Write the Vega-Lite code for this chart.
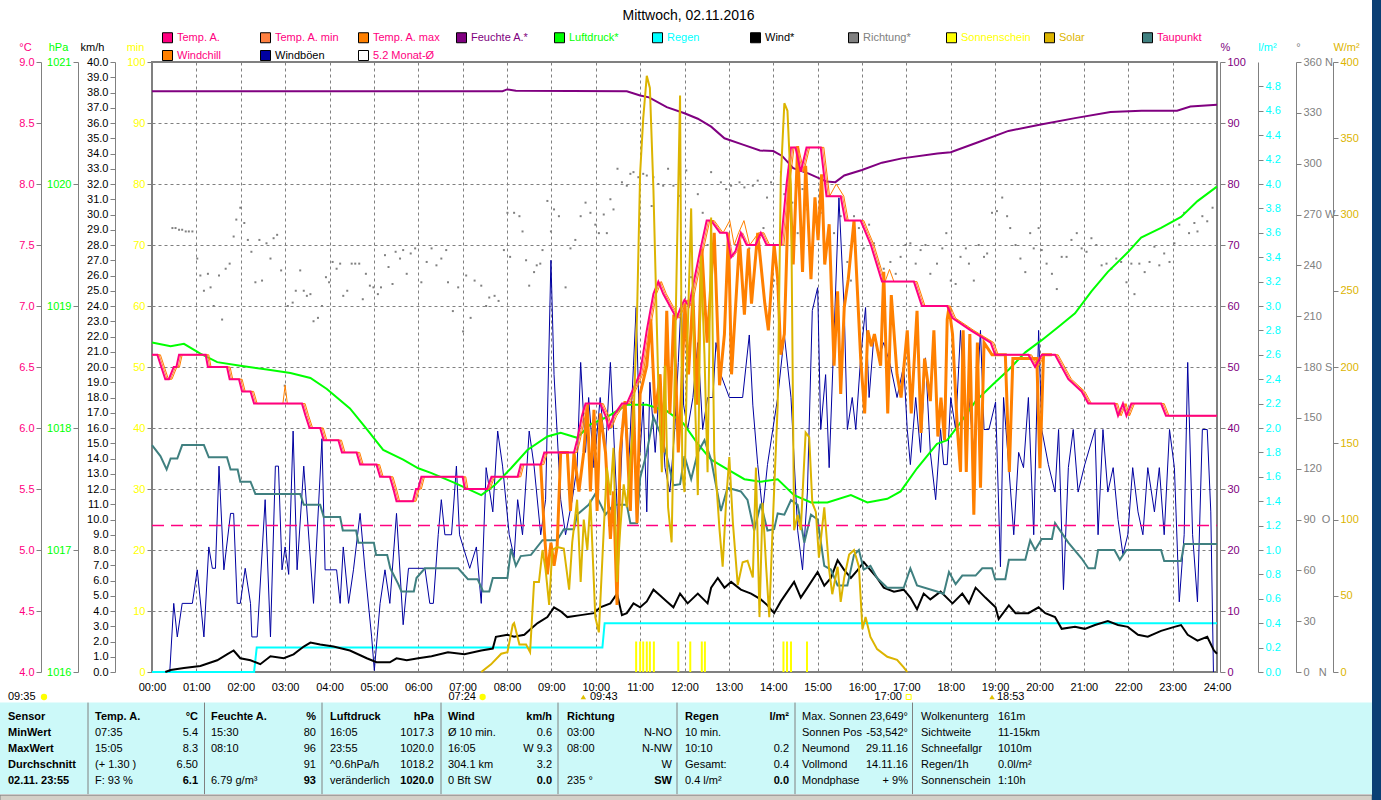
{
"$schema": "https://vega.github.io/schema/vega-lite/v6.json",
"width": 1065, "height": 610,
"autosize": {"type": "none"},
"padding": {"left": 152, "top": 62, "right": 164, "bottom": 128},
"background": "white",
"title": {"text": "Mittwoch, 02.11.2016", "font": "Liberation Sans", "fontSize": 14, "fontWeight": "normal", "color": "black", "anchor": "middle", "frame": "group", "offset": 6, "dx": 4, "dy": 32},
"config": {
  "view": {"stroke": "#808080", "strokeWidth": 2},
  "font": "Liberation Sans",
  "axis": {"labelFont": "Liberation Sans", "labelFontSize": 11, "titleFont": "Liberation Sans", "titleFontSize": 11, "titleFontWeight": "normal", "domainColor": "#808080", "tickColor": "#808080", "grid": false, "tickSize": 5, "labelPadding": 2, "titleAngle": 0, "titleBaseline": "middle", "titleAlign": "center", "titleY": -15, "labelFlush": false, "labelOverlap": false},
  "text": {"font": "Liberation Sans", "fontSize": 11}
},
"datasets": {
"temp": [{"t":0,"v":6.6},{"t":0.12,"v":6.6},{"t":0.3,"v":6.4},{"t":0.38,"v":6.4},{"t":0.49,"v":6.5},{"t":0.55,"v":6.5},{"t":0.61,"v":6.6},{"t":1.21,"v":6.6},{"t":1.26,"v":6.5},{"t":1.69,"v":6.5},{"t":1.75,"v":6.4},{"t":1.96,"v":6.4},{"t":2.03,"v":6.3},{"t":2.22,"v":6.3},{"t":2.3,"v":6.2},{"t":3.38,"v":6.2},{"t":3.46,"v":6.1},{"t":3.55,"v":6.0},{"t":3.79,"v":6.0},{"t":3.87,"v":5.9},{"t":4.2,"v":5.9},{"t":4.28,"v":5.8},{"t":4.61,"v":5.8},{"t":4.69,"v":5.7},{"t":5.06,"v":5.7},{"t":5.14,"v":5.6},{"t":5.36,"v":5.6},{"t":5.44,"v":5.5},{"t":5.51,"v":5.4},{"t":5.88,"v":5.4},{"t":5.95,"v":5.5},{"t":6.0,"v":5.5},{"t":6.07,"v":5.6},{"t":7.0,"v":5.6},{"t":7.05,"v":5.5},{"t":7.55,"v":5.5},{"t":7.65,"v":5.6},{"t":8.24,"v":5.6},{"t":8.31,"v":5.7},{"t":8.76,"v":5.7},{"t":8.84,"v":5.8},{"t":9.51,"v":5.8},{"t":9.58,"v":5.9},{"t":9.69,"v":6.1},{"t":9.77,"v":6.2},{"t":10.1,"v":6.2},{"t":10.22,"v":6.1},{"t":10.29,"v":6.0},{"t":10.4,"v":6.1},{"t":10.59,"v":6.2},{"t":10.7,"v":6.2},{"t":11.0,"v":6.45},{"t":11.15,"v":6.8},{"t":11.3,"v":7.1},{"t":11.41,"v":7.2},{"t":11.52,"v":7.1},{"t":11.67,"v":7.0},{"t":11.82,"v":6.9},{"t":11.93,"v":7.0},{"t":12.0,"v":7.05},{"t":12.1,"v":7.0},{"t":12.35,"v":7.45},{"t":12.5,"v":7.7},{"t":12.6,"v":7.7},{"t":12.8,"v":7.6},{"t":12.95,"v":7.6},{"t":13.05,"v":7.4},{"t":13.15,"v":7.45},{"t":13.27,"v":7.6},{"t":13.4,"v":7.5},{"t":13.6,"v":7.5},{"t":13.72,"v":7.6},{"t":13.85,"v":7.5},{"t":14.17,"v":7.5},{"t":14.3,"v":8.0},{"t":14.4,"v":8.3},{"t":14.5,"v":8.3},{"t":14.62,"v":8.1},{"t":14.75,"v":8.3},{"t":15.07,"v":8.3},{"t":15.2,"v":7.9},{"t":15.52,"v":7.9},{"t":15.62,"v":7.7},{"t":15.97,"v":7.7},{"t":16.2,"v":7.5},{"t":16.45,"v":7.2},{"t":17.17,"v":7.2},{"t":17.35,"v":7.0},{"t":17.92,"v":7.0},{"t":18.04,"v":6.9},{"t":18.45,"v":6.8},{"t":18.9,"v":6.7},{"t":19.0,"v":6.6},{"t":19.75,"v":6.6},{"t":19.9,"v":6.5},{"t":20.05,"v":6.6},{"t":20.35,"v":6.6},{"t":20.65,"v":6.4},{"t":20.95,"v":6.3},{"t":21.1,"v":6.2},{"t":21.69,"v":6.2},{"t":21.77,"v":6.1},{"t":21.88,"v":6.2},{"t":21.96,"v":6.1},{"t":22.07,"v":6.2},{"t":22.74,"v":6.2},{"t":22.85,"v":6.1},{"t":24,"v":6.1}],
"tmax": [{"t":0,"v":6.6},{"t":0.19,"v":6.6},{"t":0.37,"v":6.4},{"t":0.45,"v":6.4},{"t":0.56,"v":6.5},{"t":0.62,"v":6.5},{"t":0.68,"v":6.6},{"t":1.28,"v":6.6},{"t":1.33,"v":6.5},{"t":1.76,"v":6.5},{"t":1.82,"v":6.4},{"t":2.03,"v":6.4},{"t":2.1,"v":6.3},{"t":2.29,"v":6.3},{"t":2.37,"v":6.2},{"t":2.95,"v":6.2},{"t":3.0,"v":6.35},{"t":3.05,"v":6.2},{"t":3.45,"v":6.2},{"t":3.53,"v":6.1},{"t":3.62,"v":6.0},{"t":3.86,"v":6.0},{"t":3.94,"v":5.9},{"t":4.27,"v":5.9},{"t":4.35,"v":5.8},{"t":4.68,"v":5.8},{"t":4.76,"v":5.7},{"t":5.13,"v":5.7},{"t":5.21,"v":5.6},{"t":5.43,"v":5.6},{"t":5.51,"v":5.5},{"t":5.58,"v":5.4},{"t":5.95,"v":5.4},{"t":6.02,"v":5.5},{"t":6.07,"v":5.5},{"t":6.14,"v":5.6},{"t":7.07,"v":5.6},{"t":7.12,"v":5.5},{"t":7.62,"v":5.5},{"t":7.72,"v":5.6},{"t":8.31,"v":5.6},{"t":8.38,"v":5.7},{"t":8.83,"v":5.7},{"t":8.91,"v":5.8},{"t":9.58,"v":5.8},{"t":9.65,"v":5.9},{"t":9.76,"v":6.1},{"t":9.84,"v":6.2},{"t":10.17,"v":6.2},{"t":10.29,"v":6.1},{"t":10.36,"v":6.0},{"t":10.47,"v":6.1},{"t":10.66,"v":6.2},{"t":10.77,"v":6.2},{"t":11.07,"v":6.45},{"t":11.22,"v":6.8},{"t":11.37,"v":7.1},{"t":11.48,"v":7.2},{"t":11.59,"v":7.1},{"t":11.74,"v":7.0},{"t":11.89,"v":6.9},{"t":12.0,"v":7.0},{"t":12.07,"v":7.05},{"t":12.17,"v":7.0},{"t":12.42,"v":7.45},{"t":12.57,"v":7.7},{"t":12.67,"v":7.7},{"t":12.87,"v":7.6},{"t":13.02,"v":7.7},{"t":13.12,"v":7.5},{"t":13.22,"v":7.6},{"t":13.34,"v":7.7},{"t":13.47,"v":7.5},{"t":13.67,"v":7.6},{"t":13.79,"v":7.6},{"t":13.92,"v":7.5},{"t":14.24,"v":7.5},{"t":14.37,"v":8.0},{"t":14.47,"v":8.3},{"t":14.57,"v":8.3},{"t":14.69,"v":8.1},{"t":14.82,"v":8.3},{"t":15.14,"v":8.3},{"t":15.27,"v":7.9},{"t":15.42,"v":8.0},{"t":15.59,"v":7.9},{"t":15.69,"v":7.7},{"t":16.04,"v":7.7},{"t":16.27,"v":7.5},{"t":16.52,"v":7.2},{"t":16.62,"v":7.3},{"t":16.72,"v":7.2},{"t":17.24,"v":7.2},{"t":17.42,"v":7.0},{"t":17.99,"v":7.0},{"t":18.11,"v":6.9},{"t":18.52,"v":6.8},{"t":18.97,"v":6.7},{"t":19.07,"v":6.6},{"t":19.82,"v":6.6},{"t":19.97,"v":6.5},{"t":20.12,"v":6.6},{"t":20.42,"v":6.6},{"t":20.72,"v":6.4},{"t":21.02,"v":6.3},{"t":21.17,"v":6.2},{"t":21.76,"v":6.2},{"t":21.84,"v":6.1},{"t":21.95,"v":6.2},{"t":22.03,"v":6.1},{"t":22.14,"v":6.2},{"t":22.81,"v":6.2},{"t":22.92,"v":6.1},{"t":24,"v":6.1}],
"tmin": [{"t":0,"v":6.6},{"t":0.16,"v":6.6},{"t":0.34,"v":6.4},{"t":0.42,"v":6.4},{"t":0.53,"v":6.5},{"t":0.59,"v":6.5},{"t":0.65,"v":6.6},{"t":1.25,"v":6.6},{"t":1.3,"v":6.5},{"t":1.73,"v":6.5},{"t":1.79,"v":6.4},{"t":2.0,"v":6.4},{"t":2.07,"v":6.3},{"t":2.26,"v":6.3},{"t":2.34,"v":6.2},{"t":3.42,"v":6.2},{"t":3.5,"v":6.1},{"t":3.59,"v":6.0},{"t":3.83,"v":6.0},{"t":3.91,"v":5.9},{"t":4.24,"v":5.9},{"t":4.32,"v":5.8},{"t":4.65,"v":5.8},{"t":4.73,"v":5.7},{"t":5.1,"v":5.7},{"t":5.18,"v":5.6},{"t":5.4,"v":5.6},{"t":5.48,"v":5.5},{"t":5.55,"v":5.4},{"t":5.92,"v":5.4},{"t":5.99,"v":5.5},{"t":6.04,"v":5.5},{"t":6.11,"v":5.6},{"t":7.04,"v":5.6},{"t":7.09,"v":5.5},{"t":7.59,"v":5.5},{"t":7.69,"v":5.6},{"t":8.28,"v":5.6},{"t":8.35,"v":5.7},{"t":8.8,"v":5.7},{"t":8.88,"v":5.8},{"t":9.55,"v":5.8},{"t":9.62,"v":5.9},{"t":9.73,"v":6.1},{"t":9.81,"v":6.2},{"t":10.14,"v":6.2},{"t":10.26,"v":6.1},{"t":10.33,"v":6.0},{"t":10.44,"v":6.1},{"t":10.63,"v":6.2},{"t":10.74,"v":6.2},{"t":11.04,"v":6.45},{"t":11.19,"v":6.8},{"t":11.34,"v":7.1},{"t":11.45,"v":7.2},{"t":11.56,"v":7.1},{"t":11.71,"v":7.0},{"t":11.86,"v":6.9},{"t":11.97,"v":7.0},{"t":12.04,"v":7.05},{"t":12.14,"v":7.0},{"t":12.39,"v":7.45},{"t":12.54,"v":7.7},{"t":12.64,"v":7.7},{"t":12.84,"v":7.6},{"t":12.99,"v":7.6},{"t":13.09,"v":7.4},{"t":13.19,"v":7.45},{"t":13.31,"v":7.6},{"t":13.44,"v":7.5},{"t":13.64,"v":7.5},{"t":13.76,"v":7.6},{"t":13.89,"v":7.5},{"t":14.21,"v":7.5},{"t":14.34,"v":8.0},{"t":14.44,"v":8.3},{"t":14.54,"v":8.3},{"t":14.66,"v":8.1},{"t":14.79,"v":8.3},{"t":15.11,"v":8.3},{"t":15.24,"v":7.9},{"t":15.56,"v":7.9},{"t":15.66,"v":7.7},{"t":16.01,"v":7.7},{"t":16.24,"v":7.5},{"t":16.49,"v":7.2},{"t":17.21,"v":7.2},{"t":17.39,"v":7.0},{"t":17.96,"v":7.0},{"t":18.08,"v":6.9},{"t":18.49,"v":6.8},{"t":18.94,"v":6.7},{"t":19.04,"v":6.6},{"t":19.79,"v":6.6},{"t":19.94,"v":6.5},{"t":20.09,"v":6.6},{"t":20.39,"v":6.6},{"t":20.69,"v":6.4},{"t":20.99,"v":6.3},{"t":21.14,"v":6.2},{"t":21.73,"v":6.2},{"t":21.81,"v":6.1},{"t":21.92,"v":6.2},{"t":22.0,"v":6.1},{"t":22.11,"v":6.2},{"t":22.78,"v":6.2},{"t":22.89,"v":6.1},{"t":24,"v":6.1}],
"wc": [{"t":8.76,"v":5.7},{"t":8.84,"v":5.16},{"t":8.91,"v":4.8},{"t":8.99,"v":5.06},{"t":9.06,"v":4.87},{"t":9.13,"v":5.03},{"t":9.21,"v":5.8},{"t":9.36,"v":5.8},{"t":9.43,"v":5.32},{"t":9.51,"v":5.8},{"t":9.62,"v":5.48},{"t":9.73,"v":5.8},{"t":9.81,"v":6.19},{"t":9.88,"v":5.48},{"t":9.96,"v":6.15},{"t":10.03,"v":5.32},{"t":10.1,"v":6.12},{"t":10.22,"v":5.8},{"t":10.33,"v":5.09},{"t":10.4,"v":5.48},{"t":10.48,"v":4.55},{"t":10.55,"v":5.8},{"t":10.66,"v":6.22},{"t":10.78,"v":5.32},{"t":10.85,"v":6.22},{"t":10.93,"v":5.22},{"t":11.0,"v":6.28},{"t":11.15,"v":6.51},{"t":11.24,"v":6.89},{"t":11.34,"v":6.12},{"t":11.45,"v":6.44},{"t":11.52,"v":5.8},{"t":11.6,"v":6.96},{"t":11.67,"v":6.12},{"t":11.76,"v":6.93},{"t":11.86,"v":5.8},{"t":11.93,"v":6.28},{"t":12.01,"v":7.02},{"t":12.09,"v":6.44},{"t":12.19,"v":7.09},{"t":12.28,"v":6.19},{"t":12.39,"v":7.47},{"t":12.51,"v":6.7},{"t":12.67,"v":7.6},{"t":12.79,"v":6.35},{"t":12.9,"v":6.77},{"t":12.99,"v":7.6},{"t":13.06,"v":6.44},{"t":13.24,"v":7.54},{"t":13.35,"v":6.93},{"t":13.44,"v":7.47},{"t":13.51,"v":7.02},{"t":13.65,"v":7.6},{"t":13.81,"v":7.02},{"t":13.89,"v":6.8},{"t":14.02,"v":7.5},{"t":14.1,"v":7.22},{"t":14.17,"v":6.6},{"t":14.25,"v":6.77},{"t":14.36,"v":8.12},{"t":14.45,"v":7.34},{"t":14.55,"v":8.31},{"t":14.66,"v":7.28},{"t":14.73,"v":8.15},{"t":14.85,"v":7.22},{"t":14.94,"v":7.89},{"t":15.01,"v":7.54},{"t":15.09,"v":8.08},{"t":15.16,"v":7.34},{"t":15.26,"v":7.67},{"t":15.37,"v":6.51},{"t":15.45,"v":7.12},{"t":15.52,"v":6.28},{"t":15.6,"v":6.99},{"t":15.69,"v":7.22},{"t":15.82,"v":7.7},{"t":15.97,"v":6.57},{"t":16.06,"v":6.12},{"t":16.13,"v":6.8},{"t":16.21,"v":6.67},{"t":16.28,"v":6.77},{"t":16.42,"v":6.51},{"t":16.49,"v":7.28},{"t":16.58,"v":6.12},{"t":16.66,"v":7.09},{"t":16.79,"v":6.44},{"t":16.88,"v":6.25},{"t":17.02,"v":6.8},{"t":17.11,"v":6.12},{"t":17.24,"v":6.96},{"t":17.33,"v":5.96},{"t":17.41,"v":6.57},{"t":17.54,"v":6.22},{"t":17.62,"v":6.8},{"t":17.71,"v":5.93},{"t":17.78,"v":6.25},{"t":17.86,"v":5.9},{"t":17.92,"v":6.89},{"t":17.96,"v":6.99},{"t":18.04,"v":6.77},{"t":18.15,"v":5.99},{"t":18.22,"v":5.64},{"t":18.28,"v":6.8},{"t":18.35,"v":5.64},{"t":18.43,"v":6.77},{"t":18.52,"v":5.29},{"t":18.6,"v":6.7},{"t":18.67,"v":5.51},{"t":18.75,"v":6.7},{"t":18.93,"v":6.6},{"t":19.23,"v":6.6},{"t":19.32,"v":5.64},{"t":19.4,"v":6.57},{"t":19.94,"v":6.57},{"t":20.01,"v":5.67},{"t":20.09,"v":6.6},{"t":20.28,"v":6.6}],
"dew": [{"t":0,"v":5.86},{"t":0.19,"v":5.77},{"t":0.33,"v":5.66},{"t":0.42,"v":5.75},{"t":0.57,"v":5.75},{"t":0.68,"v":5.86},{"t":1.17,"v":5.86},{"t":1.28,"v":5.76},{"t":1.69,"v":5.76},{"t":1.77,"v":5.66},{"t":1.93,"v":5.66},{"t":1.99,"v":5.56},{"t":2.22,"v":5.56},{"t":2.33,"v":5.46},{"t":3.34,"v":5.46},{"t":3.42,"v":5.37},{"t":3.79,"v":5.37},{"t":3.87,"v":5.27},{"t":4.24,"v":5.27},{"t":4.3,"v":5.16},{"t":4.6,"v":5.16},{"t":4.65,"v":5.06},{"t":5.0,"v":5.06},{"t":5.05,"v":4.96},{"t":5.3,"v":4.96},{"t":5.37,"v":4.85},{"t":5.55,"v":4.72},{"t":5.62,"v":4.66},{"t":5.9,"v":4.66},{"t":5.96,"v":4.77},{"t":6.15,"v":4.85},{"t":6.9,"v":4.85},{"t":7.12,"v":4.76},{"t":7.34,"v":4.76},{"t":7.46,"v":4.66},{"t":7.6,"v":4.66},{"t":7.68,"v":4.77},{"t":8.01,"v":4.77},{"t":8.09,"v":5.01},{"t":8.2,"v":4.87},{"t":8.31,"v":4.95},{"t":8.54,"v":4.96},{"t":8.8,"v":5.08},{"t":9.13,"v":5.08},{"t":9.28,"v":5.17},{"t":9.51,"v":5.17},{"t":9.58,"v":5.29},{"t":9.84,"v":5.37},{"t":9.99,"v":5.46},{"t":10.1,"v":5.38},{"t":10.22,"v":5.29},{"t":10.4,"v":5.37},{"t":10.7,"v":5.37},{"t":10.78,"v":5.22},{"t":10.93,"v":5.22},{"t":11.0,"v":5.59},{"t":11.15,"v":5.8},{"t":11.3,"v":6.09},{"t":11.45,"v":5.96},{"t":11.6,"v":5.77},{"t":11.75,"v":5.53},{"t":11.9,"v":5.54},{"t":12.0,"v":5.77},{"t":12.15,"v":5.58},{"t":12.3,"v":5.8},{"t":12.45,"v":5.9},{"t":12.6,"v":5.74},{"t":12.82,"v":5.32},{"t":12.97,"v":5.51},{"t":13.27,"v":5.48},{"t":13.42,"v":5.41},{"t":13.57,"v":5.16},{"t":13.72,"v":5.38},{"t":13.87,"v":5.16},{"t":14.02,"v":5.17},{"t":14.1,"v":5.3},{"t":14.25,"v":5.29},{"t":14.4,"v":5.41},{"t":14.55,"v":5.37},{"t":14.7,"v":5.06},{"t":14.85,"v":5.29},{"t":15.0,"v":5.25},{"t":15.15,"v":4.87},{"t":15.3,"v":4.84},{"t":15.45,"v":4.71},{"t":15.67,"v":4.71},{"t":15.82,"v":4.96},{"t":15.93,"v":5.0},{"t":16.04,"v":4.84},{"t":16.19,"v":4.87},{"t":16.34,"v":4.77},{"t":16.57,"v":4.69},{"t":16.94,"v":4.69},{"t":17.09,"v":4.85},{"t":17.24,"v":4.71},{"t":17.69,"v":4.66},{"t":17.84,"v":4.64},{"t":17.96,"v":4.82},{"t":18.11,"v":4.72},{"t":18.26,"v":4.79},{"t":18.56,"v":4.79},{"t":18.71,"v":4.85},{"t":18.93,"v":4.85},{"t":19.0,"v":4.76},{"t":19.23,"v":4.76},{"t":19.31,"v":4.92},{"t":19.68,"v":4.92},{"t":19.79,"v":5.08},{"t":19.9,"v":5.0},{"t":20.05,"v":5.09},{"t":20.28,"v":5.09},{"t":20.35,"v":5.22},{"t":20.65,"v":5.06},{"t":20.95,"v":4.93},{"t":21.1,"v":4.85},{"t":21.25,"v":4.85},{"t":21.32,"v":5.0},{"t":21.69,"v":5.0},{"t":21.81,"v":4.92},{"t":21.96,"v":5.0},{"t":22.74,"v":5.0},{"t":22.81,"v":4.91},{"t":23.19,"v":4.91},{"t":23.26,"v":5.05},{"t":24,"v":5.05}],
"hum": [{"t":0,"v":95.2},{"t":7.9,"v":95.2},{"t":8.0,"v":95.5},{"t":8.2,"v":95.3},{"t":10.7,"v":95.2},{"t":11.0,"v":94.5},{"t":11.2,"v":94.2},{"t":11.6,"v":92.6},{"t":12.0,"v":91.6},{"t":12.3,"v":90.7},{"t":12.6,"v":89.4},{"t":12.9,"v":87.5},{"t":13.3,"v":86.5},{"t":13.7,"v":85.5},{"t":14.0,"v":85.4},{"t":14.2,"v":84.6},{"t":14.45,"v":82.6},{"t":14.8,"v":81.7},{"t":15.2,"v":80.4},{"t":15.4,"v":80.3},{"t":15.6,"v":81.4},{"t":16.0,"v":82.3},{"t":16.45,"v":83.5},{"t":16.9,"v":84.2},{"t":17.7,"v":85.0},{"t":18.0,"v":85.2},{"t":18.6,"v":86.8},{"t":19.3,"v":88.7},{"t":20.0,"v":89.7},{"t":20.8,"v":90.8},{"t":21.6,"v":91.8},{"t":22.3,"v":92.0},{"t":23.1,"v":92.0},{"t":23.4,"v":92.7},{"t":24,"v":93.0}],
"pres": [{"t":0,"v":1018.7},{"t":0.42,"v":1018.67},{"t":0.72,"v":1018.69},{"t":1.09,"v":1018.61},{"t":1.47,"v":1018.54},{"t":1.99,"v":1018.51},{"t":2.59,"v":1018.48},{"t":3.12,"v":1018.45},{"t":3.57,"v":1018.41},{"t":3.94,"v":1018.32},{"t":4.46,"v":1018.16},{"t":4.84,"v":1017.99},{"t":5.21,"v":1017.82},{"t":5.66,"v":1017.74},{"t":6.0,"v":1017.67},{"t":6.3,"v":1017.63},{"t":6.82,"v":1017.55},{"t":7.42,"v":1017.45},{"t":7.72,"v":1017.53},{"t":8.09,"v":1017.67},{"t":8.46,"v":1017.82},{"t":8.91,"v":1017.93},{"t":9.21,"v":1017.96},{"t":9.58,"v":1017.92},{"t":9.88,"v":1018.03},{"t":10.25,"v":1018.09},{"t":10.7,"v":1018.19},{"t":11.15,"v":1018.19},{"t":11.6,"v":1018.14},{"t":11.97,"v":1018.04},{"t":12.3,"v":1017.87},{"t":12.6,"v":1017.74},{"t":12.97,"v":1017.66},{"t":13.35,"v":1017.58},{"t":13.72,"v":1017.56},{"t":14.1,"v":1017.58},{"t":14.47,"v":1017.45},{"t":14.85,"v":1017.39},{"t":15.22,"v":1017.39},{"t":15.75,"v":1017.45},{"t":16.12,"v":1017.39},{"t":16.57,"v":1017.42},{"t":16.87,"v":1017.48},{"t":17.24,"v":1017.67},{"t":17.69,"v":1017.87},{"t":17.92,"v":1017.9},{"t":18.19,"v":1018.03},{"t":18.56,"v":1018.22},{"t":18.93,"v":1018.35},{"t":19.31,"v":1018.48},{"t":19.68,"v":1018.62},{"t":20.05,"v":1018.72},{"t":20.43,"v":1018.83},{"t":20.8,"v":1018.94},{"t":21.17,"v":1019.12},{"t":21.54,"v":1019.28},{"t":21.99,"v":1019.44},{"t":22.29,"v":1019.56},{"t":22.74,"v":1019.64},{"t":23.19,"v":1019.73},{"t":23.56,"v":1019.86},{"t":23.93,"v":1019.96},{"t":24,"v":1019.98}],
"rain": [{"t":0,"v":0},{"t":2.3,"v":0},{"t":2.36,"v":0.2},{"t":10.15,"v":0.2},{"t":10.2,"v":0.4},{"t":24,"v":0.4}],
"wind": [{"t":0.3,"v":0},{"t":0.42,"v":0.13},{"t":0.72,"v":0.26},{"t":1.09,"v":0.39},{"t":1.47,"v":0.77},{"t":1.69,"v":1.16},{"t":1.84,"v":1.41},{"t":1.99,"v":0.9},{"t":2.22,"v":0.77},{"t":2.44,"v":0.51},{"t":2.67,"v":1.03},{"t":2.97,"v":0.9},{"t":3.19,"v":1.16},{"t":3.42,"v":1.67},{"t":3.57,"v":1.93},{"t":3.79,"v":1.8},{"t":4.09,"v":1.67},{"t":4.46,"v":1.41},{"t":4.84,"v":0.9},{"t":5.06,"v":0.64},{"t":5.36,"v":0.64},{"t":5.51,"v":0.9},{"t":5.74,"v":0.77},{"t":6.0,"v":0.9},{"t":6.3,"v":1.03},{"t":6.67,"v":1.29},{"t":7.04,"v":1.16},{"t":7.42,"v":1.41},{"t":7.68,"v":1.54},{"t":7.75,"v":2.31},{"t":8.01,"v":2.44},{"t":8.16,"v":2.31},{"t":8.39,"v":2.44},{"t":8.54,"v":2.83},{"t":8.69,"v":3.21},{"t":8.91,"v":3.6},{"t":9.06,"v":4.24},{"t":9.21,"v":3.98},{"t":9.36,"v":3.6},{"t":9.66,"v":3.73},{"t":9.96,"v":3.86},{"t":10.1,"v":4.24},{"t":10.33,"v":4.5},{"t":10.48,"v":5.14},{"t":10.59,"v":3.73},{"t":10.7,"v":3.86},{"t":10.85,"v":4.5},{"t":11.0,"v":4.24},{"t":11.15,"v":4.63},{"t":11.3,"v":5.4},{"t":11.45,"v":5.01},{"t":11.6,"v":4.63},{"t":11.75,"v":4.24},{"t":11.9,"v":5.14},{"t":12.07,"v":4.5},{"t":12.3,"v":5.14},{"t":12.52,"v":4.5},{"t":12.6,"v":5.53},{"t":12.75,"v":6.17},{"t":12.9,"v":5.53},{"t":13.05,"v":5.91},{"t":13.27,"v":5.4},{"t":13.5,"v":5.14},{"t":13.72,"v":4.76},{"t":13.87,"v":4.37},{"t":14.02,"v":3.86},{"t":14.17,"v":4.63},{"t":14.32,"v":5.27},{"t":14.47,"v":5.91},{"t":14.62,"v":4.88},{"t":14.77,"v":5.53},{"t":15.0,"v":6.56},{"t":15.15,"v":5.66},{"t":15.3,"v":6.17},{"t":15.45,"v":7.33},{"t":15.6,"v":6.68},{"t":15.75,"v":6.17},{"t":15.9,"v":6.68},{"t":16.04,"v":7.2},{"t":16.19,"v":6.68},{"t":16.34,"v":6.17},{"t":16.49,"v":5.53},{"t":16.72,"v":5.27},{"t":16.94,"v":5.4},{"t":17.09,"v":4.88},{"t":17.24,"v":4.11},{"t":17.39,"v":5.14},{"t":17.54,"v":4.76},{"t":17.77,"v":5.27},{"t":18.04,"v":4.5},{"t":18.26,"v":5.14},{"t":18.41,"v":4.5},{"t":18.56,"v":5.53},{"t":18.78,"v":4.88},{"t":19.01,"v":4.24},{"t":19.08,"v":3.47},{"t":19.31,"v":4.37},{"t":19.46,"v":3.86},{"t":19.75,"v":3.86},{"t":19.98,"v":4.24},{"t":20.13,"v":3.86},{"t":20.35,"v":3.6},{"t":20.5,"v":2.83},{"t":20.8,"v":2.96},{"t":21.02,"v":2.83},{"t":21.25,"v":3.08},{"t":21.54,"v":3.34},{"t":21.77,"v":3.08},{"t":21.99,"v":2.96},{"t":22.22,"v":2.44},{"t":22.44,"v":2.31},{"t":22.74,"v":2.7},{"t":23.04,"v":2.96},{"t":23.19,"v":3.08},{"t":23.34,"v":2.44},{"t":23.56,"v":2.06},{"t":23.78,"v":2.31},{"t":23.93,"v":1.41},{"t":24,"v":1.2}],
"gust": [{"t":0.4,"v":0},{"t":0.49,"v":4.5},{"t":0.57,"v":2.3},{"t":0.68,"v":4.5},{"t":0.91,"v":4.5},{"t":1.02,"v":6.7},{"t":1.17,"v":2.3},{"t":1.28,"v":8.2},{"t":1.36,"v":6.8},{"t":1.43,"v":6.8},{"t":1.51,"v":13.5},{"t":1.62,"v":6.7},{"t":1.77,"v":10.4},{"t":1.84,"v":10.4},{"t":1.92,"v":4.5},{"t":1.99,"v":4.5},{"t":2.1,"v":6.8},{"t":2.22,"v":4.5},{"t":2.25,"v":2.3},{"t":2.37,"v":2.3},{"t":2.55,"v":11.3},{"t":2.67,"v":2.3},{"t":2.78,"v":13.5},{"t":2.85,"v":13.5},{"t":2.93,"v":6.7},{"t":3.0,"v":8.2},{"t":3.08,"v":6.4},{"t":3.18,"v":15.8},{"t":3.27,"v":6.7},{"t":3.42,"v":13.5},{"t":3.64,"v":4.5},{"t":3.83,"v":15.3},{"t":3.9,"v":6.7},{"t":4.16,"v":6.7},{"t":4.24,"v":4.5},{"t":4.31,"v":8.2},{"t":4.43,"v":4.5},{"t":4.54,"v":6.7},{"t":4.69,"v":10.4},{"t":4.8,"v":6.7},{"t":4.95,"v":2.3},{"t":5.01,"v":0.1},{"t":5.14,"v":4.5},{"t":5.25,"v":6.7},{"t":5.36,"v":4.5},{"t":5.51,"v":10.4},{"t":5.66,"v":3.1},{"t":5.78,"v":6.8},{"t":6.01,"v":6.8},{"t":6.15,"v":6.8},{"t":6.26,"v":4.5},{"t":6.34,"v":4.5},{"t":6.45,"v":9.0},{"t":6.52,"v":11.3},{"t":6.6,"v":9.0},{"t":6.75,"v":9.0},{"t":6.86,"v":13.5},{"t":6.93,"v":9.0},{"t":7.16,"v":6.8},{"t":7.31,"v":8.2},{"t":7.42,"v":4.5},{"t":7.53,"v":13.4},{"t":7.68,"v":10.5},{"t":7.79,"v":15.8},{"t":7.9,"v":13.5},{"t":8.05,"v":9.0},{"t":8.16,"v":7.5},{"t":8.24,"v":11.3},{"t":8.35,"v":9.0},{"t":8.5,"v":15.8},{"t":8.61,"v":13.5},{"t":8.76,"v":9.0},{"t":8.87,"v":11.3},{"t":8.99,"v":27.0},{"t":9.06,"v":19.5},{"t":9.21,"v":11.3},{"t":9.32,"v":9.0},{"t":9.47,"v":11.3},{"t":9.58,"v":13.5},{"t":9.66,"v":20.3},{"t":9.77,"v":14.4},{"t":9.84,"v":18.0},{"t":9.96,"v":13.4},{"t":10.1,"v":18.0},{"t":10.22,"v":14.4},{"t":10.33,"v":20.3},{"t":10.4,"v":15.9},{"t":10.51,"v":9.0},{"t":10.63,"v":17.5},{"t":10.74,"v":13.4},{"t":10.85,"v":20.1},{"t":10.91,"v":23.9},{"t":11.0,"v":14.4},{"t":11.07,"v":17.7},{"t":11.15,"v":10.5},{"t":11.22,"v":19.0},{"t":11.34,"v":14.4},{"t":11.45,"v":19.5},{"t":11.56,"v":13.4},{"t":11.67,"v":11.8},{"t":11.78,"v":15.9},{"t":11.86,"v":20.3},{"t":11.93,"v":24.7},{"t":11.98,"v":17.5},{"t":12.07,"v":15.9},{"t":12.19,"v":18.0},{"t":12.3,"v":21.6},{"t":12.41,"v":15.9},{"t":12.52,"v":18.0},{"t":12.64,"v":18.0},{"t":12.71,"v":21.6},{"t":12.82,"v":19.5},{"t":13.01,"v":18.0},{"t":13.31,"v":18.0},{"t":13.46,"v":22.1},{"t":13.54,"v":17.5},{"t":13.65,"v":13.6},{"t":13.76,"v":10.5},{"t":13.87,"v":13.6},{"t":13.99,"v":15.9},{"t":14.1,"v":18.0},{"t":14.25,"v":22.1},{"t":14.4,"v":18.0},{"t":14.55,"v":9.3},{"t":14.66,"v":6.7},{"t":14.77,"v":11.8},{"t":14.88,"v":23.7},{"t":15.0,"v":25.2},{"t":15.07,"v":15.9},{"t":15.18,"v":19.5},{"t":15.26,"v":13.4},{"t":15.37,"v":22.1},{"t":15.48,"v":31.1},{"t":15.6,"v":23.7},{"t":15.67,"v":15.9},{"t":15.78,"v":18.0},{"t":15.86,"v":15.9},{"t":15.97,"v":20.6},{"t":16.08,"v":23.9},{"t":16.16,"v":18.0},{"t":16.27,"v":22.1},{"t":16.38,"v":20.6},{"t":16.49,"v":21.6},{"t":16.64,"v":20.1},{"t":16.79,"v":18.0},{"t":16.94,"v":20.1},{"t":17.02,"v":15.9},{"t":17.09,"v":13.6},{"t":17.21,"v":18.0},{"t":17.32,"v":14.4},{"t":17.43,"v":20.6},{"t":17.54,"v":14.4},{"t":17.66,"v":11.3},{"t":17.77,"v":15.9},{"t":17.84,"v":13.6},{"t":17.92,"v":13.6},{"t":18.0,"v":18.0},{"t":18.11,"v":15.9},{"t":18.22,"v":22.4},{"t":18.34,"v":15.9},{"t":18.41,"v":18.0},{"t":18.52,"v":14.4},{"t":18.67,"v":22.4},{"t":18.75,"v":15.9},{"t":18.86,"v":15.9},{"t":19.01,"v":17.7},{"t":19.12,"v":6.9},{"t":19.19,"v":18.0},{"t":19.31,"v":13.4},{"t":19.42,"v":9.0},{"t":19.53,"v":14.4},{"t":19.64,"v":13.4},{"t":19.75,"v":18.0},{"t":19.87,"v":9.0},{"t":19.98,"v":22.4},{"t":20.05,"v":15.9},{"t":20.2,"v":13.6},{"t":20.35,"v":11.8},{"t":20.43,"v":15.9},{"t":20.54,"v":5.4},{"t":20.65,"v":13.4},{"t":20.76,"v":15.9},{"t":20.87,"v":11.8},{"t":21.02,"v":13.6},{"t":21.25,"v":15.9},{"t":21.32,"v":9.0},{"t":21.43,"v":15.9},{"t":21.54,"v":11.8},{"t":21.66,"v":13.4},{"t":21.77,"v":10.0},{"t":21.88,"v":7.7},{"t":21.99,"v":9.0},{"t":22.1,"v":13.4},{"t":22.22,"v":10.5},{"t":22.33,"v":9.0},{"t":22.44,"v":13.4},{"t":22.59,"v":10.5},{"t":22.7,"v":13.4},{"t":22.81,"v":9.0},{"t":22.93,"v":15.9},{"t":23.04,"v":13.4},{"t":23.15,"v":4.6},{"t":23.26,"v":9.0},{"t":23.34,"v":20.3},{"t":23.45,"v":9.0},{"t":23.56,"v":4.6},{"t":23.67,"v":15.9},{"t":23.78,"v":15.9},{"t":23.86,"v":10.5},{"t":23.92,"v":0}],
"dir": [{"t":0.46,"v":262},{"t":0.53,"v":262},{"t":0.61,"v":261},{"t":0.68,"v":261},{"t":0.76,"v":260},{"t":0.83,"v":260},{"t":0.91,"v":260},{"t":1.02,"v":244},{"t":1.09,"v":234},{"t":1.17,"v":225},{"t":1.26,"v":235},{"t":1.32,"v":227},{"t":1.39,"v":216},{"t":1.51,"v":234},{"t":1.58,"v":208},{"t":1.66,"v":238},{"t":1.75,"v":241},{"t":1.84,"v":257},{"t":1.9,"v":267},{"t":1.99,"v":274},{"t":2.08,"v":265},{"t":2.16,"v":255},{"t":2.24,"v":248},{"t":2.33,"v":230},{"t":2.42,"v":255},{"t":2.48,"v":231},{"t":2.58,"v":253},{"t":2.67,"v":244},{"t":2.74,"v":256},{"t":2.82,"v":258},{"t":2.91,"v":237},{"t":2.99,"v":169},{"t":3.06,"v":216},{"t":3.17,"v":218},{"t":3.24,"v":225},{"t":3.34,"v":237},{"t":3.42,"v":225},{"t":3.49,"v":222},{"t":3.57,"v":223},{"t":3.64,"v":207},{"t":3.74,"v":209},{"t":3.83,"v":216},{"t":3.92,"v":233},{"t":3.99,"v":230},{"t":4.07,"v":242},{"t":4.16,"v":238},{"t":4.24,"v":241},{"t":4.31,"v":222},{"t":4.4,"v":225},{"t":4.5,"v":241},{"t":4.58,"v":241},{"t":4.67,"v":241},{"t":4.75,"v":220},{"t":4.82,"v":235},{"t":4.91,"v":228},{"t":4.99,"v":227},{"t":5.09,"v":223},{"t":5.16,"v":227},{"t":5.25,"v":246},{"t":5.33,"v":239},{"t":5.42,"v":229},{"t":5.49,"v":248},{"t":5.59,"v":244},{"t":5.66,"v":249},{"t":5.74,"v":235},{"t":5.83,"v":247},{"t":5.93,"v":250},{"t":6.07,"v":230},{"t":6.19,"v":242},{"t":6.3,"v":250},{"t":6.41,"v":240},{"t":6.52,"v":244},{"t":6.63,"v":249},{"t":6.67,"v":230},{"t":6.78,"v":213},{"t":6.9,"v":227},{"t":7.01,"v":201},{"t":7.08,"v":234},{"t":7.18,"v":209},{"t":7.27,"v":231},{"t":7.42,"v":228},{"t":7.53,"v":216},{"t":7.6,"v":221},{"t":7.72,"v":222},{"t":7.81,"v":219},{"t":7.93,"v":249},{"t":8.01,"v":271},{"t":8.07,"v":245},{"t":8.16,"v":271},{"t":8.28,"v":269},{"t":8.35,"v":260},{"t":8.43,"v":243},{"t":8.5,"v":228},{"t":8.61,"v":236},{"t":8.67,"v":240},{"t":8.75,"v":241},{"t":8.8,"v":249},{"t":8.91,"v":278},{"t":8.99,"v":260},{"t":9.06,"v":273},{"t":9.17,"v":269},{"t":9.32,"v":227},{"t":9.43,"v":250},{"t":9.54,"v":255},{"t":9.66,"v":269},{"t":9.77,"v":277},{"t":9.88,"v":271},{"t":9.99,"v":264},{"t":10.07,"v":259},{"t":10.18,"v":270},{"t":10.25,"v":259},{"t":10.33,"v":279},{"t":10.4,"v":273},{"t":10.49,"v":297},{"t":10.59,"v":289},{"t":10.7,"v":287},{"t":10.78,"v":294},{"t":10.85,"v":295},{"t":10.96,"v":292},{"t":11.07,"v":294},{"t":11.15,"v":293},{"t":11.26,"v":275},{"t":11.3,"v":292},{"t":11.41,"v":288},{"t":11.52,"v":287},{"t":11.63,"v":297},{"t":11.75,"v":287},{"t":11.9,"v":281},{"t":12.04,"v":296},{"t":12.15,"v":233},{"t":12.3,"v":282},{"t":12.41,"v":271},{"t":12.52,"v":252},{"t":12.6,"v":295},{"t":12.71,"v":236},{"t":12.82,"v":289},{"t":12.94,"v":285},{"t":13.05,"v":287},{"t":13.16,"v":252},{"t":13.24,"v":289},{"t":13.35,"v":286},{"t":13.46,"v":250},{"t":13.54,"v":287},{"t":13.65,"v":290},{"t":13.78,"v":262},{"t":13.86,"v":280},{"t":13.95,"v":289},{"t":14.02,"v":231},{"t":14.1,"v":229},{"t":14.17,"v":295},{"t":14.25,"v":282},{"t":14.32,"v":287},{"t":14.43,"v":277},{"t":14.55,"v":259},{"t":14.66,"v":285},{"t":14.77,"v":273},{"t":14.85,"v":247},{"t":14.96,"v":269},{"t":15.07,"v":271},{"t":15.15,"v":250},{"t":15.26,"v":252},{"t":15.37,"v":259},{"t":15.52,"v":269},{"t":15.67,"v":242},{"t":15.75,"v":231},{"t":15.82,"v":269},{"t":15.93,"v":262},{"t":16.04,"v":250},{"t":16.16,"v":264},{"t":16.27,"v":253},{"t":16.38,"v":241},{"t":16.49,"v":238},{"t":16.64,"v":242},{"t":16.76,"v":235},{"t":16.87,"v":245},{"t":16.98,"v":252},{"t":17.09,"v":253},{"t":17.21,"v":241},{"t":17.32,"v":249},{"t":17.43,"v":252},{"t":17.54,"v":235},{"t":17.69,"v":241},{"t":17.81,"v":250},{"t":17.9,"v":259},{"t":18.0,"v":231},{"t":18.11,"v":229},{"t":18.22,"v":245},{"t":18.34,"v":250},{"t":18.41,"v":241},{"t":18.52,"v":231},{"t":18.63,"v":252},{"t":18.75,"v":245},{"t":18.82,"v":247},{"t":18.93,"v":271},{"t":19.04,"v":272},{"t":19.16,"v":280},{"t":19.27,"v":269},{"t":19.34,"v":262},{"t":19.46,"v":252},{"t":19.57,"v":244},{"t":19.68,"v":236},{"t":19.79,"v":259},{"t":19.87,"v":250},{"t":19.98,"v":262},{"t":20.05,"v":249},{"t":20.16,"v":241},{"t":20.28,"v":235},{"t":20.39,"v":226},{"t":20.5,"v":245},{"t":20.61,"v":245},{"t":20.72,"v":255},{"t":20.84,"v":259},{"t":20.95,"v":250},{"t":21.06,"v":248},{"t":21.17,"v":256},{"t":21.28,"v":252},{"t":21.4,"v":240},{"t":21.51,"v":241},{"t":21.62,"v":238},{"t":21.73,"v":244},{"t":21.84,"v":242},{"t":21.96,"v":230},{"t":22.07,"v":241},{"t":22.14,"v":223},{"t":22.25,"v":241},{"t":22.37,"v":236},{"t":22.48,"v":242},{"t":22.59,"v":251},{"t":22.7,"v":240},{"t":22.81,"v":247},{"t":22.93,"v":242},{"t":23.04,"v":253},{"t":23.15,"v":264},{"t":23.26,"v":271},{"t":23.37,"v":259},{"t":23.49,"v":265},{"t":23.56,"v":260},{"t":23.67,"v":269},{"t":23.78,"v":266},{"t":23.9,"v":274}],
"sun": [{"t":10.91,"v":5},{"t":11.0,"v":5},{"t":11.07,"v":5},{"t":11.15,"v":5},{"t":11.22,"v":5},{"t":11.31,"v":5},{"t":11.86,"v":5},{"t":12.13,"v":5},{"t":12.39,"v":5},{"t":12.46,"v":5},{"t":14.23,"v":5},{"t":14.31,"v":5},{"t":14.4,"v":5},{"t":14.76,"v":5}],
"solar": [{"t":7.42,"v":0},{"t":7.64,"v":5},{"t":7.87,"v":12},{"t":8.01,"v":13},{"t":8.13,"v":31},{"t":8.16,"v":32},{"t":8.28,"v":18},{"t":8.43,"v":18},{"t":8.52,"v":13},{"t":8.61,"v":59},{"t":8.72,"v":59},{"t":8.8,"v":80},{"t":8.87,"v":67},{"t":8.95,"v":44},{"t":9.02,"v":80},{"t":9.13,"v":82},{"t":9.28,"v":81},{"t":9.4,"v":54},{"t":9.47,"v":85},{"t":9.58,"v":113},{"t":9.66,"v":59},{"t":9.73,"v":100},{"t":9.81,"v":80},{"t":9.88,"v":113},{"t":9.99,"v":36},{"t":10.07,"v":26},{"t":10.18,"v":93},{"t":10.25,"v":134},{"t":10.33,"v":116},{"t":10.4,"v":147},{"t":10.48,"v":59},{"t":10.55,"v":93},{"t":10.63,"v":123},{"t":10.7,"v":108},{"t":10.78,"v":139},{"t":10.85,"v":165},{"t":10.93,"v":234},{"t":11.0,"v":327},{"t":11.07,"v":363},{"t":11.15,"v":391},{"t":11.22,"v":383},{"t":11.3,"v":316},{"t":11.41,"v":188},{"t":11.49,"v":131},{"t":11.56,"v":201},{"t":11.63,"v":108},{"t":11.71,"v":85},{"t":11.82,"v":260},{"t":11.9,"v":378},{"t":11.95,"v":131},{"t":12.0,"v":118},{"t":12.07,"v":221},{"t":12.15,"v":304},{"t":12.22,"v":195},{"t":12.3,"v":116},{"t":12.37,"v":273},{"t":12.45,"v":208},{"t":12.52,"v":131},{"t":12.6,"v":298},{"t":12.67,"v":144},{"t":12.79,"v":93},{"t":12.86,"v":69},{"t":12.94,"v":113},{"t":13.01,"v":141},{"t":13.09,"v":98},{"t":13.2,"v":57},{"t":13.31,"v":72},{"t":13.42,"v":73},{"t":13.54,"v":62},{"t":13.61,"v":134},{"t":13.69,"v":36},{"t":13.76,"v":111},{"t":13.84,"v":69},{"t":13.91,"v":36},{"t":13.99,"v":98},{"t":14.1,"v":175},{"t":14.17,"v":324},{"t":14.25,"v":373},{"t":14.32,"v":368},{"t":14.4,"v":316},{"t":14.47,"v":93},{"t":14.55,"v":103},{"t":14.62,"v":93},{"t":14.73,"v":157},{"t":14.81,"v":154},{"t":14.88,"v":111},{"t":14.96,"v":105},{"t":15.03,"v":75},{"t":15.15,"v":108},{"t":15.26,"v":67},{"t":15.33,"v":51},{"t":15.45,"v":69},{"t":15.52,"v":46},{"t":15.6,"v":62},{"t":15.71,"v":77},{"t":15.82,"v":80},{"t":15.93,"v":69},{"t":16.01,"v":28},{"t":16.08,"v":36},{"t":16.19,"v":23},{"t":16.34,"v":15},{"t":16.57,"v":10},{"t":16.79,"v":8},{"t":16.94,"v":3},{"t":17.02,"v":0}],
"leg": [{"n":"Temp. A."},{"n":"Temp. A. min"},{"n":"Temp. A. max"},{"n":"Feuchte A.*"},{"n":"Luftdruck*"},{"n":"Regen"},{"n":"Wind*"},{"n":"Richtung*"},{"n":"Sonnenschein"},{"n":"Solar"},{"n":"Taupunkt"},{"n":"Windchill"},{"n":"Windböen"},{"n":"5.2 Monat-Ø"}],
"monat": [{"t":0,"v":5.2},{"t":24,"v":5.2}],
"bg": [{"c1":-1,"c2":25,"r1":-0.9,"r2":4.82}],
"bar": [{"c1":-1,"c2":25,"r1":4.88,"r2":5.3}],
"edge": [{"c1":25,"c2":26,"r1":-45,"r2":5.3}],
"sep": [{"c":1},{"c":4},{"c":7},{"c":10},{"c":13},{"c":16},{"c":19},{"c":22}],
"tlb": [{"c":0,"r":0,"s":"Sensor"},{"c":0,"r":1,"s":"MinWert"},{"c":0,"r":2,"s":"MaxWert"},{"c":0,"r":3,"s":"Durchschnitt"},{"c":0,"r":4,"s":"02.11. 23:55"},{"c":2,"r":0,"s":"Temp. A."},{"c":5,"r":0,"s":"Feuchte A."},{"c":8,"r":0,"s":"Luftdruck"},{"c":11,"r":0,"s":"Wind"},{"c":14,"r":0,"s":"Richtung"},{"c":17,"r":0,"s":"Regen"}],
"trb": [{"c":3,"r":0,"s":"°C"},{"c":6,"r":0,"s":"%"},{"c":9,"r":0,"s":"hPa"},{"c":12,"r":0,"s":"km/h"},{"c":18,"r":0,"s":"l/m²"},{"c":3,"r":4,"s":"6.1"},{"c":6,"r":4,"s":"93"},{"c":9,"r":4,"s":"1020.0"},{"c":12,"r":4,"s":"0.0"},{"c":15,"r":4,"s":"SW"},{"c":18,"r":4,"s":"0.0"}],
"tl": [{"c":0,"r":-1.25,"s":"09:35"},{"c":2,"r":1,"s":"07:35"},{"c":2,"r":2,"s":"15:05"},{"c":2,"r":3,"s":"(+ 1.30 )"},{"c":2,"r":4,"s":"F: 93 %"},{"c":5,"r":1,"s":"15:30"},{"c":5,"r":2,"s":"08:10"},{"c":5,"r":4,"s":"6.79 g/m³"},{"c":8,"r":1,"s":"16:05"},{"c":8,"r":2,"s":"23:55"},{"c":8,"r":3,"s":"^0.6hPa/h"},{"c":8,"r":4,"s":"veränderlich"},{"c":11,"r":1,"s":"Ø 10 min."},{"c":11,"r":2,"s":"16:05"},{"c":11,"r":3,"s":"304.1 km"},{"c":11,"r":4,"s":"0 Bft SW"},{"c":14,"r":1,"s":"03:00"},{"c":14,"r":2,"s":"08:00"},{"c":14,"r":4,"s":"235 °"},{"c":17,"r":1,"s":"10 min."},{"c":17,"r":2,"s":"10:10"},{"c":17,"r":3,"s":"Gesamt:"},{"c":17,"r":4,"s":"0.4 l/m²"},{"c":20,"r":0,"s":"Max. Sonnen"},{"c":20,"r":1,"s":"Sonnen Pos"},{"c":20,"r":2,"s":"Neumond"},{"c":20,"r":3,"s":"Vollmond"},{"c":20,"r":4,"s":"Mondphase"},{"c":23,"r":0,"s":"Wolkenunterg"},{"c":23,"r":1,"s":"Sichtweite"},{"c":23,"r":2,"s":"Schneefallgr"},{"c":23,"r":3,"s":"Regen/1h"},{"c":23,"r":4,"s":"Sonnenschein"},{"c":24,"r":0,"s":"161m"},{"c":24,"r":1,"s":"11-15km"},{"c":24,"r":2,"s":"1010m"},{"c":24,"r":3,"s":"0.0l/m²"},{"c":24,"r":4,"s":"1:10h"}],
"tr": [{"c":3,"r":1,"s":"5.4"},{"c":3,"r":2,"s":"8.3"},{"c":3,"r":3,"s":"6.50"},{"c":6,"r":1,"s":"80"},{"c":6,"r":2,"s":"96"},{"c":6,"r":3,"s":"91"},{"c":9,"r":1,"s":"1017.3"},{"c":9,"r":2,"s":"1020.0"},{"c":9,"r":3,"s":"1018.2"},{"c":12,"r":1,"s":"0.6"},{"c":12,"r":2,"s":"W 9.3"},{"c":12,"r":3,"s":"3.2"},{"c":15,"r":1,"s":"N-NO"},{"c":15,"r":2,"s":"N-NW"},{"c":15,"r":3,"s":"W"},{"c":18,"r":2,"s":"0.2"},{"c":18,"r":3,"s":"0.4"},{"c":21,"r":0,"s":"23,649°"},{"c":21,"r":1,"s":"-53,542°"},{"c":21,"r":2,"s":"29.11.16"},{"c":21,"r":3,"s":"14.11.16"},{"c":21,"r":4,"s":"+ 9%"}],
"anL": [{"t":9.87,"r":-1.25,"s":"09:43"},{"t":19.04,"r":-1.25,"s":"18:53"}],
"anR": [{"t":7.3,"r":-1.25,"s":"07:24"},{"t":16.9,"r":-1.25,"s":"17:00"}],
"sunrise": [{"t":7.45,"r":-1.25}],
"sunset": [{"t":17.05,"r":-1.25}],
"arrows": [{"t":9.72,"r":-1.25},{"t":18.93,"r":-1.25}],
"nowsun": [{"c":0.45,"r":-1.25}]
},
"layer": [
{"data": {"name": "sun"}, "mark": {"type": "rule", "color": "#FFFF00", "strokeWidth": 2},
 "encoding": {
  "x": {"field": "t", "type": "quantitative", "scale": {"domain": [0, 24], "nice": false, "zero": false},
        "axis": {"orient": "bottom", "values": [0,1,2,3,4,5,6,7,8,9,10,11,12,13,14,15,16,17,18,19,20,21,22,23,24], "labelExpr": "(datum.value < 10 ? '0' : '') + datum.value + ':00'", "grid": true, "gridDash": [3,3], "gridColor": "#808080", "gridOpacity": 1, "tickSize": 0, "labelPadding": 9, "labelColor": "black", "title": null, "domainColor": "#808080"}},
  "y": {"field": "v", "type": "quantitative", "scale": {"domain": [0, 100], "nice": false, "zero": false},
        "axis": {"orient": "left", "offset": 0, "values": [0,10,20,30,40,50,60,70,80,90,100], "format": "d", "labelColor": "#FFFF00", "title": "min", "titleColor": "#FFFF00", "titleX": -17, "domain": false, "grid": true, "gridDash": [3,3], "gridColor": "#808080", "gridOpacity": 1}},
  "y2": {"datum": 0}
 }},
{"data": {"name": "dir"}, "mark": {"type": "square", "size": 4, "color": "#808080", "opacity": 1},
 "encoding": {
  "x": {"field": "t", "type": "quantitative", "scale": {"domain": [0, 24], "nice": false, "zero": false}, "axis": null},
  "y": {"field": "v", "type": "quantitative", "scale": {"domain": [0, 360], "nice": false, "zero": false},
        "axis": {"orient": "right", "offset": 79, "values": [0,30,60,90,120,150,180,210,240,270,300,330,360], "labelExpr": "datum.value == 360 ? '360 N' : datum.value == 270 ? '270 W' : datum.value == 180 ? '180 S' : datum.value == 90 ? '90\u00a0\u00a0O' : datum.value == 0 ? '0\u00a0\u00a0\u00a0N' : datum.label", "labelColor": "#808080", "title": "°", "titleColor": "#808080", "titleX": 2}}
 }},
{"data": {"name": "rain"}, "mark": {"type": "line", "color": "#00FFFF", "strokeWidth": 2},
 "encoding": {
  "x": {"field": "t", "type": "quantitative", "scale": {"domain": [0, 24], "nice": false, "zero": false}, "axis": null},
  "y": {"field": "v", "type": "quantitative", "scale": {"domain": [0, 5], "nice": false, "zero": false},
        "axis": {"orient": "right", "offset": 41, "values": [0,0.2,0.4,0.6,0.8,1,1.2,1.4,1.6,1.8,2,2.2,2.4,2.6,2.8,3,3.2,3.4,3.6,3.8,4,4.2,4.4,4.6,4.8], "format": ".1f", "labelColor": "#00FFFF", "title": "l/m²", "titleColor": "#00FFFF", "titleX": 9}}
 }},
{"data": {"name": "gust"}, "mark": {"type": "line", "color": "#0000A0", "strokeWidth": 1},
 "encoding": {
  "x": {"field": "t", "type": "quantitative", "scale": {"domain": [0, 24], "nice": false, "zero": false}, "axis": null},
  "y": {"field": "v", "type": "quantitative", "scale": {"domain": [0, 40], "nice": false, "zero": false}, "axis": null}
 }},
{"data": {"name": "wind"}, "mark": {"type": "line", "color": "#000000", "strokeWidth": 2},
 "encoding": {
  "x": {"field": "t", "type": "quantitative", "scale": {"domain": [0, 24], "nice": false, "zero": false}, "axis": null},
  "y": {"field": "v", "type": "quantitative", "scale": {"domain": [0, 40], "nice": false, "zero": false},
        "axis": {"orient": "left", "offset": 37, "values": [0,1,2,3,4,5,6,7,8,9,10,11,12,13,14,15,16,17,18,19,20,21,22,23,24,25,26,27,28,29,30,31,32,33,34,35,36,37,38,39,40], "format": ".1f", "labelColor": "#000000", "title": "km/h", "titleColor": "#000000", "titleX": -23}}
 }},
{"data": {"name": "pres"}, "mark": {"type": "line", "color": "#00FF00", "strokeWidth": 2},
 "encoding": {
  "x": {"field": "t", "type": "quantitative", "scale": {"domain": [0, 24], "nice": false, "zero": false}, "axis": null},
  "y": {"field": "v", "type": "quantitative", "scale": {"domain": [1016, 1021], "nice": false, "zero": false},
        "axis": {"orient": "left", "offset": 74, "values": [1016,1017,1018,1019,1020,1021], "format": "d", "labelColor": "#00FF00", "title": "hPa", "titleColor": "#00FF00", "titleX": -20}}
 }},
{"data": {"name": "hum"}, "mark": {"type": "line", "color": "#800080", "strokeWidth": 2},
 "encoding": {
  "x": {"field": "t", "type": "quantitative", "scale": {"domain": [0, 24], "nice": false, "zero": false}, "axis": null},
  "y": {"field": "v", "type": "quantitative", "scale": {"domain": [0, 100], "nice": false, "zero": false},
        "axis": {"orient": "right", "offset": 3, "values": [0,10,20,30,40,50,60,70,80,90,100], "format": "d", "labelColor": "#800080", "title": "%", "titleColor": "#800080", "titleX": 5}}
 }},
{"data": {"name": "dew"}, "mark": {"type": "line", "color": "#408080", "strokeWidth": 2},
 "encoding": {
  "x": {"field": "t", "type": "quantitative", "scale": {"domain": [0, 24], "nice": false, "zero": false}, "axis": null},
  "y": {"field": "v", "type": "quantitative", "scale": {"domain": [4, 9], "nice": false, "zero": false}, "axis": null}
 }},
{"data": {"name": "monat"}, "mark": {"type": "line", "stroke": "#FF0080", "strokeWidth": 1.5, "strokeDash": [12, 7]},
 "encoding": {
  "x": {"field": "t", "type": "quantitative", "scale": {"domain": [0, 24], "nice": false, "zero": false}, "axis": null},
  "y": {"field": "v", "type": "quantitative", "scale": {"domain": [4, 9], "nice": false, "zero": false}, "axis": null}
 }},
{"data": {"name": "wc"}, "mark": {"type": "line", "color": "#FF8000", "strokeWidth": 3},
 "encoding": {
  "x": {"field": "t", "type": "quantitative", "scale": {"domain": [0, 24], "nice": false, "zero": false}, "axis": null},
  "y": {"field": "v", "type": "quantitative", "scale": {"domain": [4, 9], "nice": false, "zero": false}, "axis": null}
 }},
{"data": {"name": "tmin"}, "mark": {"type": "line", "color": "#FF8040", "strokeWidth": 1},
 "encoding": {
  "x": {"field": "t", "type": "quantitative", "scale": {"domain": [0, 24], "nice": false, "zero": false}, "axis": null},
  "y": {"field": "v", "type": "quantitative", "scale": {"domain": [4, 9], "nice": false, "zero": false}, "axis": null}
 }},
{"data": {"name": "tmax"}, "mark": {"type": "line", "color": "#FF8000", "strokeWidth": 1},
 "encoding": {
  "x": {"field": "t", "type": "quantitative", "scale": {"domain": [0, 24], "nice": false, "zero": false}, "axis": null},
  "y": {"field": "v", "type": "quantitative", "scale": {"domain": [4, 9], "nice": false, "zero": false}, "axis": null}
 }},
{"data": {"name": "temp"}, "mark": {"type": "line", "color": "#FF0080", "strokeWidth": 2},
 "encoding": {
  "x": {"field": "t", "type": "quantitative", "scale": {"domain": [0, 24], "nice": false, "zero": false}, "axis": null},
  "y": {"field": "v", "type": "quantitative", "scale": {"domain": [4, 9], "nice": false, "zero": false},
        "axis": {"orient": "left", "offset": 111, "values": [4,4.5,5,5.5,6,6.5,7,7.5,8,8.5,9], "format": ".1f", "labelColor": "#FF0080", "title": "°C", "titleColor": "#FF0080", "titleX": -16}}
 }},
{"data": {"name": "solar"}, "mark": {"type": "line", "color": "#DCB400", "strokeWidth": 2},
 "encoding": {
  "x": {"field": "t", "type": "quantitative", "scale": {"domain": [0, 24], "nice": false, "zero": false}, "axis": null},
  "y": {"field": "v", "type": "quantitative", "scale": {"domain": [0, 400], "nice": false, "zero": false},
        "axis": {"orient": "right", "offset": 116, "values": [0,50,100,150,200,250,300,350,400], "format": "d", "labelColor": "#DCB400", "title": "W/m²", "titleColor": "#DCB400", "titleX": 13}}
 }},
{"data": {"name": "leg"}, "mark": {"type": "square", "opacity": 0, "filled": true},
 "encoding": {
  "color": {"field": "n", "type": "nominal",
    "scale": {"domain": ["Temp. A.","Temp. A. min","Temp. A. max","Feuchte A.*","Luftdruck*","Regen","Wind*","Richtung*","Sonnenschein","Solar","Taupunkt","Windchill","Windböen","5.2 Monat-Ø"],
              "range": ["#FF0080","#FF8040","#FF8000","#800080","#00FF00","#00FFFF","#000000","#808080","#FFFF00","#DCB400","#408080","#FF8000","#0000A0","#FFFFFF"]},
    "legend": {"orient": "none", "legendX": 10, "legendY": -30, "direction": "horizontal", "columns": 11, "title": null, "padding": 0,
      "symbolType": "square", "symbolSize": 100, "symbolStrokeColor": "#000000", "symbolStrokeWidth": 1, "symbolOpacity": 1,
      "labelFont": "Liberation Sans", "labelFontSize": 11, "labelOffset": 4, "labelLimit": 200,
      "labelColor": {"expr": "datum.label == 'Feuchte A.*' ? '#800080' : datum.label == 'Luftdruck*' ? '#00FF00' : datum.label == 'Regen' ? '#00FFFF' : (datum.label == 'Wind*' || datum.label == 'Windböen') ? '#000000' : datum.label == 'Richtung*' ? '#808080' : datum.label == 'Sonnenschein' ? '#FFFF00' : datum.label == 'Solar' ? '#DCB400' : '#FF0080'"},
      "columnPadding": 11, "rowPadding": 3, "gridAlign": "all"}}
 }},
{"data": {"name": "bg"}, "mark": {"type": "rect", "color": "#CCF9F9"},
 "encoding": {
  "x": {"field": "c1", "type": "quantitative", "scale": {"domain": [-1,0,1,2,3,4,5,6,7,8,9,10,11,12,13,14,15,16,17,18,19,20,21,22,23,24,25,26], "range": [-152,-144,-64,-57,46,52.5,59,164,170,178,282,289,296,400,406,415,520,525,533,637,643,650,756,760.5,769,846,1220,1229], "nice": false, "zero": false}, "axis": null},
  "x2": {"field": "c2"},
  "y": {"field": "r1", "type": "quantitative", "scale": {"domain": [0, 4], "range": [655, 719], "nice": false, "zero": false}, "axis": null},
  "y2": {"field": "r2"}
 }},
{"data": {"name": "bar"}, "mark": {"type": "rect", "color": "#D4D0C8", "stroke": "#808080", "strokeWidth": 1},
 "encoding": {
  "x": {"field": "c1", "type": "quantitative", "scale": {"domain": [-1,0,1,2,3,4,5,6,7,8,9,10,11,12,13,14,15,16,17,18,19,20,21,22,23,24,25,26], "range": [-152,-144,-64,-57,46,52.5,59,164,170,178,282,289,296,400,406,415,520,525,533,637,643,650,756,760.5,769,846,1220,1229], "nice": false, "zero": false}, "axis": null},
  "x2": {"field": "c2"},
  "y": {"field": "r1", "type": "quantitative", "scale": {"domain": [0, 4], "range": [655, 719], "nice": false, "zero": false}, "axis": null},
  "y2": {"field": "r2"}
 }},
{"data": {"name": "edge"}, "mark": {"type": "rect", "color": "#0B3F74"},
 "encoding": {
  "x": {"field": "c1", "type": "quantitative", "scale": {"domain": [-1,0,1,2,3,4,5,6,7,8,9,10,11,12,13,14,15,16,17,18,19,20,21,22,23,24,25,26], "range": [-152,-144,-64,-57,46,52.5,59,164,170,178,282,289,296,400,406,415,520,525,533,637,643,650,756,760.5,769,846,1220,1229], "nice": false, "zero": false}, "axis": null},
  "x2": {"field": "c2"},
  "y": {"field": "r1", "type": "quantitative", "scale": {"domain": [0, 4], "range": [655, 719], "nice": false, "zero": false}, "axis": null},
  "y2": {"field": "r2"}
 }},
{"data": {"name": "sep"}, "mark": {"type": "rule", "color": "#808080", "strokeWidth": 1},
 "encoding": {
  "x": {"field": "c", "type": "quantitative", "scale": {"domain": [-1,0,1,2,3,4,5,6,7,8,9,10,11,12,13,14,15,16,17,18,19,20,21,22,23,24,25,26], "range": [-152,-144,-64,-57,46,52.5,59,164,170,178,282,289,296,400,406,415,520,525,533,637,643,650,756,760.5,769,846,1220,1229], "nice": false, "zero": false}, "axis": null},
  "y": {"datum": -0.9, "type": "quantitative", "scale": {"domain": [0, 4], "range": [655, 719], "nice": false, "zero": false}, "axis": null},
  "y2": {"datum": 4.82}
 }},
{"data": {"name": "tl"}, "mark": {"type": "text", "align": "left", "baseline": "middle", "font": "Liberation Sans", "fontSize": 11, "color": "#000000"},
 "encoding": {
  "x": {"field": "c", "type": "quantitative", "scale": {"domain": [-1,0,1,2,3,4,5,6,7,8,9,10,11,12,13,14,15,16,17,18,19,20,21,22,23,24,25,26], "range": [-152,-144,-64,-57,46,52.5,59,164,170,178,282,289,296,400,406,415,520,525,533,637,643,650,756,760.5,769,846,1220,1229], "nice": false, "zero": false}, "axis": null},
  "y": {"field": "r", "type": "quantitative", "scale": {"domain": [0, 4], "range": [655, 719], "nice": false, "zero": false}, "axis": null},
  "text": {"field": "s"}
 }},
{"data": {"name": "tlb"}, "mark": {"type": "text", "align": "left", "baseline": "middle", "font": "Liberation Sans", "fontSize": 11, "fontWeight": "bold", "color": "#000000"},
 "encoding": {
  "x": {"field": "c", "type": "quantitative", "scale": {"domain": [-1,0,1,2,3,4,5,6,7,8,9,10,11,12,13,14,15,16,17,18,19,20,21,22,23,24,25,26], "range": [-152,-144,-64,-57,46,52.5,59,164,170,178,282,289,296,400,406,415,520,525,533,637,643,650,756,760.5,769,846,1220,1229], "nice": false, "zero": false}, "axis": null},
  "y": {"field": "r", "type": "quantitative", "scale": {"domain": [0, 4], "range": [655, 719], "nice": false, "zero": false}, "axis": null},
  "text": {"field": "s"}
 }},
{"data": {"name": "tr"}, "mark": {"type": "text", "align": "right", "baseline": "middle", "font": "Liberation Sans", "fontSize": 11, "color": "#000000"},
 "encoding": {
  "x": {"field": "c", "type": "quantitative", "scale": {"domain": [-1,0,1,2,3,4,5,6,7,8,9,10,11,12,13,14,15,16,17,18,19,20,21,22,23,24,25,26], "range": [-152,-144,-64,-57,46,52.5,59,164,170,178,282,289,296,400,406,415,520,525,533,637,643,650,756,760.5,769,846,1220,1229], "nice": false, "zero": false}, "axis": null},
  "y": {"field": "r", "type": "quantitative", "scale": {"domain": [0, 4], "range": [655, 719], "nice": false, "zero": false}, "axis": null},
  "text": {"field": "s"}
 }},
{"data": {"name": "trb"}, "mark": {"type": "text", "align": "right", "baseline": "middle", "font": "Liberation Sans", "fontSize": 11, "fontWeight": "bold", "color": "#000000"},
 "encoding": {
  "x": {"field": "c", "type": "quantitative", "scale": {"domain": [-1,0,1,2,3,4,5,6,7,8,9,10,11,12,13,14,15,16,17,18,19,20,21,22,23,24,25,26], "range": [-152,-144,-64,-57,46,52.5,59,164,170,178,282,289,296,400,406,415,520,525,533,637,643,650,756,760.5,769,846,1220,1229], "nice": false, "zero": false}, "axis": null},
  "y": {"field": "r", "type": "quantitative", "scale": {"domain": [0, 4], "range": [655, 719], "nice": false, "zero": false}, "axis": null},
  "text": {"field": "s"}
 }},
{"data": {"name": "anL"}, "mark": {"type": "text", "align": "left", "baseline": "middle", "font": "Liberation Sans", "fontSize": 11, "color": "#000000"},
 "encoding": {
  "x": {"field": "t", "type": "quantitative", "scale": {"domain": [0, 24], "nice": false, "zero": false}, "axis": null},
  "y": {"field": "r", "type": "quantitative", "scale": {"domain": [0, 4], "range": [655, 719], "nice": false, "zero": false}, "axis": null},
  "text": {"field": "s"}
 }},
{"data": {"name": "anR"}, "mark": {"type": "text", "align": "right", "baseline": "middle", "font": "Liberation Sans", "fontSize": 11, "color": "#000000"},
 "encoding": {
  "x": {"field": "t", "type": "quantitative", "scale": {"domain": [0, 24], "nice": false, "zero": false}, "axis": null},
  "y": {"field": "r", "type": "quantitative", "scale": {"domain": [0, 4], "range": [655, 719], "nice": false, "zero": false}, "axis": null},
  "text": {"field": "s"}
 }},
{"data": {"name": "sunrise"}, "mark": {"type": "circle", "size": 40, "color": "#FFFF00", "opacity": 1},
 "encoding": {
  "x": {"field": "t", "type": "quantitative", "scale": {"domain": [0, 24], "nice": false, "zero": false}, "axis": null},
  "y": {"field": "r", "type": "quantitative", "scale": {"domain": [0, 4], "range": [655, 719], "nice": false, "zero": false}, "axis": null}
 }},
{"data": {"name": "sunset"}, "mark": {"type": "square", "size": 25, "filled": false, "color": "#FFFF00", "strokeWidth": 1, "opacity": 1},
 "encoding": {
  "x": {"field": "t", "type": "quantitative", "scale": {"domain": [0, 24], "nice": false, "zero": false}, "axis": null},
  "y": {"field": "r", "type": "quantitative", "scale": {"domain": [0, 4], "range": [655, 719], "nice": false, "zero": false}, "axis": null}
 }},
{"data": {"name": "arrows"}, "mark": {"type": "point", "shape": "triangle-up", "size": 30, "filled": true, "color": "#E0C000", "opacity": 1},
 "encoding": {
  "x": {"field": "t", "type": "quantitative", "scale": {"domain": [0, 24], "nice": false, "zero": false}, "axis": null},
  "y": {"field": "r", "type": "quantitative", "scale": {"domain": [0, 4], "range": [655, 719], "nice": false, "zero": false}, "axis": null}
 }},
{"data": {"name": "nowsun"}, "mark": {"type": "circle", "size": 40, "color": "#FFFF00", "opacity": 1},
 "encoding": {
  "x": {"field": "c", "type": "quantitative", "scale": {"domain": [-1,0,1,2,3,4,5,6,7,8,9,10,11,12,13,14,15,16,17,18,19,20,21,22,23,24,25,26], "range": [-152,-144,-64,-57,46,52.5,59,164,170,178,282,289,296,400,406,415,520,525,533,637,643,650,756,760.5,769,846,1220,1229], "nice": false, "zero": false}, "axis": null},
  "y": {"field": "r", "type": "quantitative", "scale": {"domain": [0, 4], "range": [655, 719], "nice": false, "zero": false}, "axis": null}
 }}
],
"resolve": {"scale": {"x": "independent", "y": "independent"}, "axis": {"x": "independent", "y": "independent"}}
}
